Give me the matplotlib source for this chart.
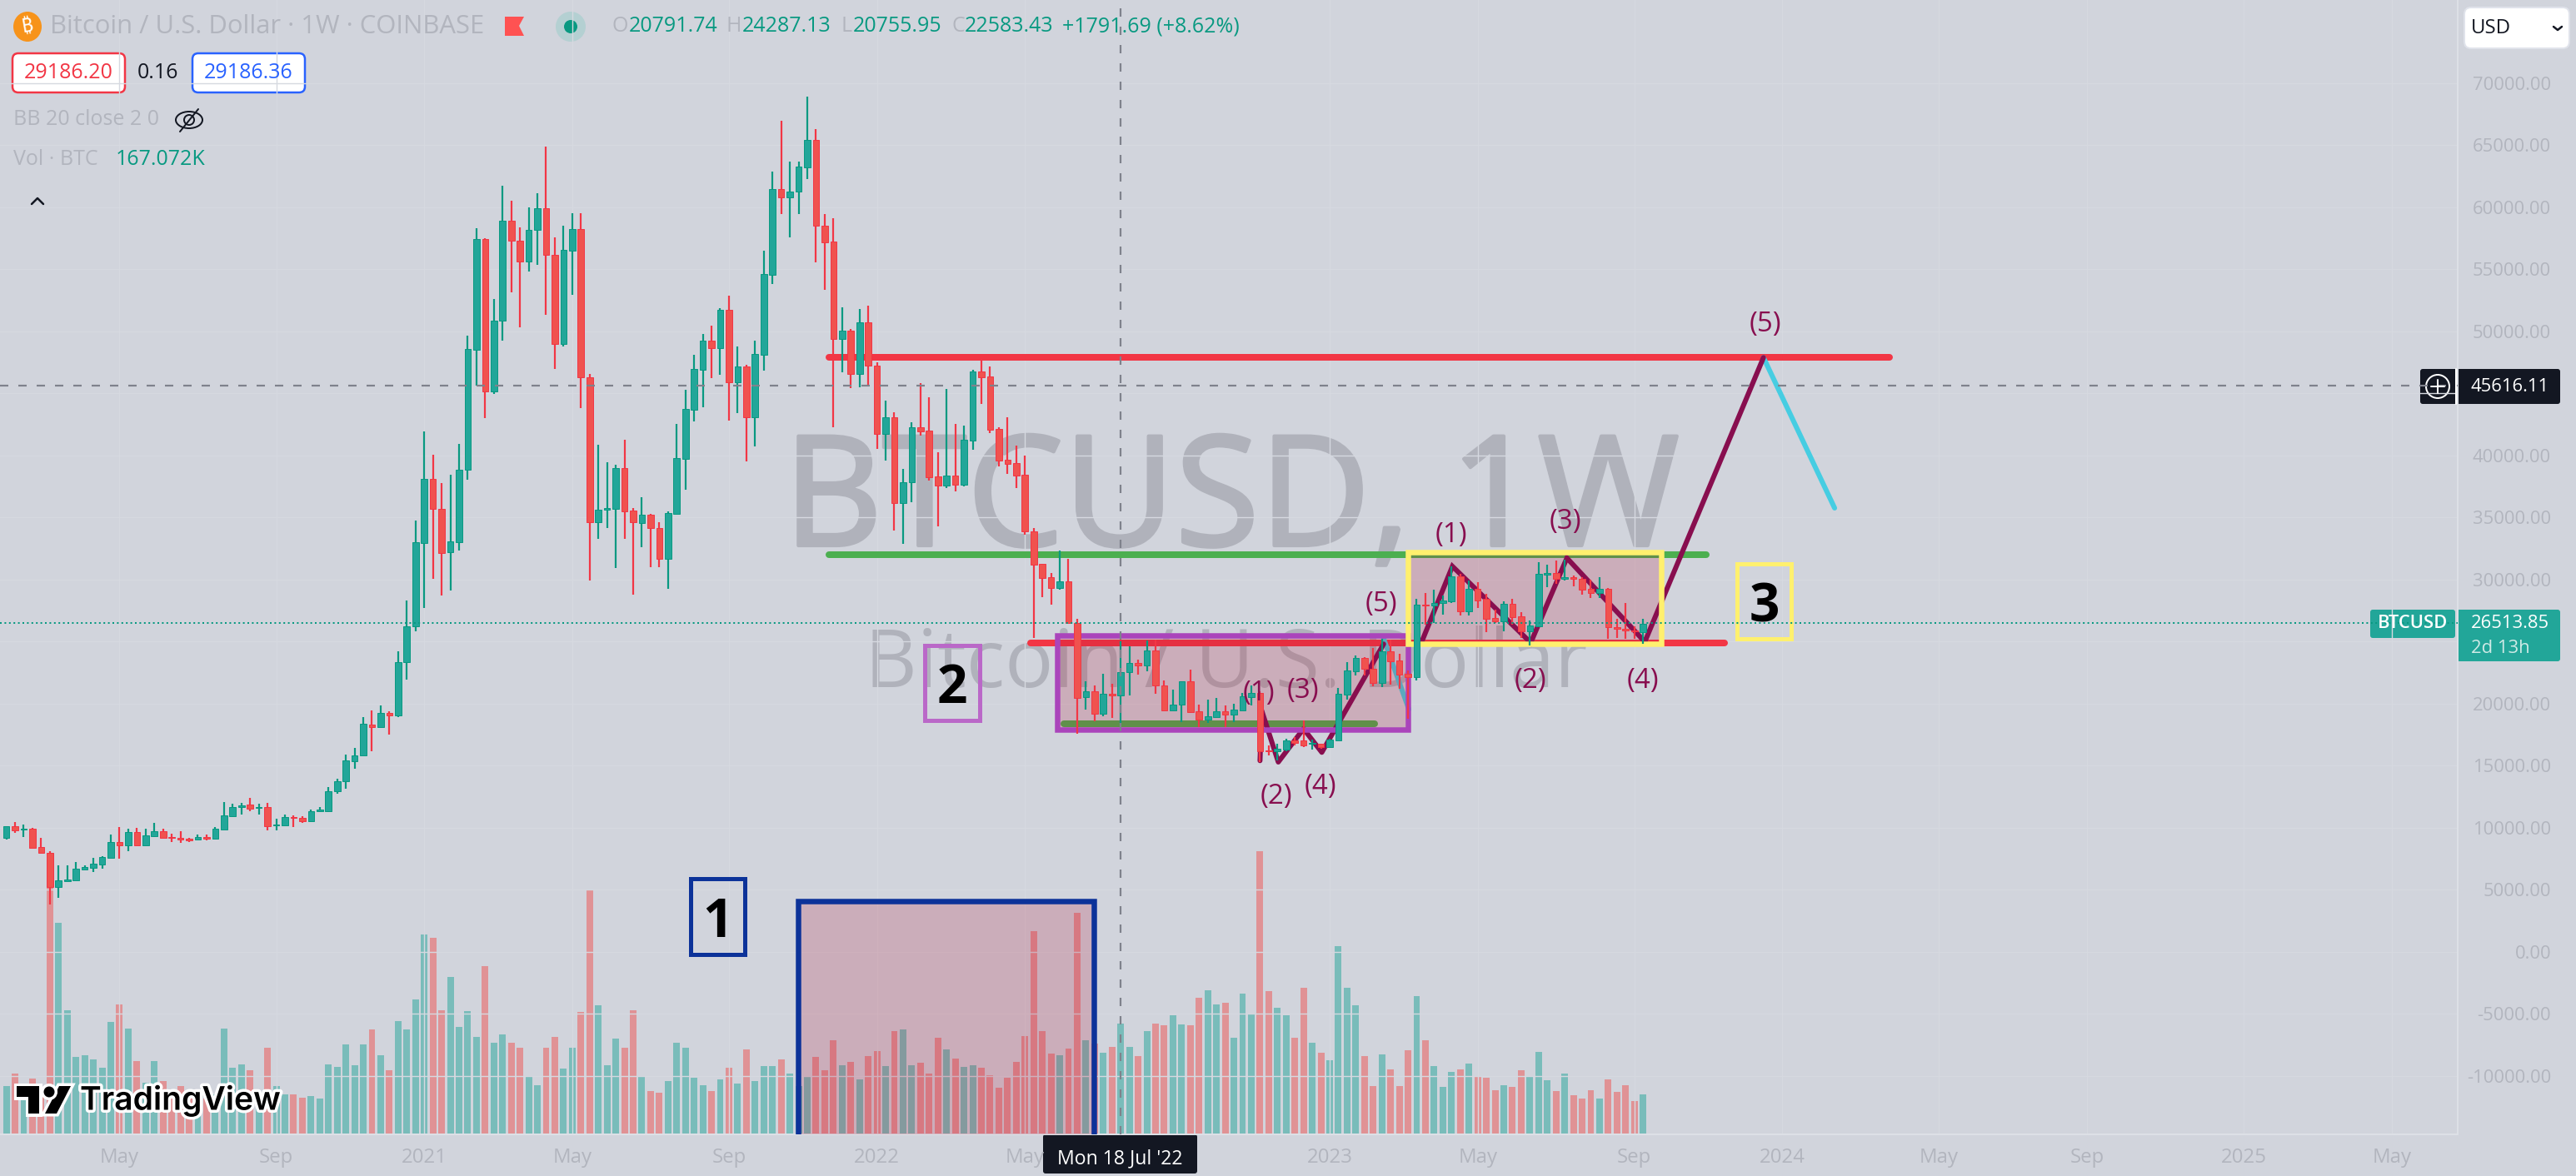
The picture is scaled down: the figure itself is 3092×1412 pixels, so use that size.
import matplotlib
matplotlib.use("Agg")
import matplotlib.pyplot as plt
import matplotlib.patheffects as pe
from matplotlib.colors import to_rgba
from matplotlib.lines import Line2D
from matplotlib.patches import Circle, Ellipse, FancyBboxPatch, Polygon, Rectangle
from matplotlib.transforms import Affine2D

# weekly candles, 3 Feb 2020 to 11 Sep 2023
opens = [9217,10134,9866,9933,8457,7987,5235,5727,5795,6667,6779,7070,7584,8859,8613,9642,8613,9329,9732,9284,
         9195,9105,9038,9262,9150,9888,10940,11656,11902,11611,11678,10179,10224,10873,10783,10537,11320,11320,12976,13746,
         15364,15865,18331,18138,19295,19064,23379,26230,32934,38097,35708,32241,33011,38868,48539,57439,45148,50889,58903,57285,
         55667,58171,59905,56206,48999,56514,58248,46342,34629,35631,35708,38983,35593,34552,35246,34167,31663,35290,39726,43681,
         46917,49266,48667,51735,45910,47180,43106,48144,54565,61454,60783,61276,63244,65414,58546,57249,49386,50057,46581,50728,
         47229,41763,43082,36202,37832,42315,42003,38311,37592,38360,37640,41236,46797,46365,42147,39654,39390,38456,33925,31264,
         30210,29299,29874,26494,20515,20998,19218,20784,20672,22529,23289,23110,24274,21455,19487,19934,21791,19375,18726,18949,
         19397,19151,19487,20560,20873,16265,16198,16309,17026,17026,16800,16757,16533,17071,20739,22641,23692,22842,21679,24229,
         23468,22417,22126,27987,27898,28121,28278,30291,27450,29240,28435,26891,26645,28054,27048,25840,26242,30403,30537,30067,
         30179,30067,29262,28949,29262,26197,26040,25929,25750]
closes = [10134,9821,9933,8412,7965,5235,5772,5839,6712,6824,7137,7674,8859,8613,9642,8613,9374,9732,9195,9195,
          9061,9016,9239,9150,9933,11007,11678,11790,11566,11678,10157,10269,10873,10783,10559,11365,11477,12976,13746,15441,
          15865,18370,18138,19295,19064,23379,26230,33011,38097,35708,32163,33088,38868,48616,57439,45148,50889,58903,57285,55667,
          58171,59905,56206,48999,56591,58248,46342,34629,35631,35747,38983,35516,34629,35246,34167,31663,35400,39798,43753,46989,
          49266,48667,51735,45934,47180,43106,48187,54609,61454,60783,61276,63289,65414,58546,57204,49386,50057,46581,50728,47229,
          41763,43082,36202,37832,42315,41955,38264,37592,38360,37640,41284,46797,46317,42075,39606,39318,38408,33925,31240,30162,
          29347,29874,26494,20502,20998,19218,20784,20672,22529,23289,23110,24274,21455,19487,19934,21791,19330,18726,18994,19397,
          19107,19531,20605,20873,16198,16198,16354,17026,16870,16645,16870,16533,17093,20784,22686,23692,22842,21679,24251,23424,
          22350,22126,27987,27898,28121,28345,30291,27450,29240,28345,26824,26645,28054,27003,25840,26287,30448,30537,30067,30179,
          30067,29217,28949,29262,26152,26018,25884,25817,26443]
highs = [10157,10448,10269,9978,9195,8121,6980,6958,7249,6958,7584,7718,9486,10090,9933,9978,9933,10425,9933,9553,
         9709,9195,9463,9486,10090,12058,11946,12013,12416,11969,11991,10716,11052,10984,10940,11499,11655,13282,13977,15904,
         16443,18908,19449,19834,19372,24226,28310,34745,41950,40062,37789,38482,40910,49656,58325,57516,52623,61755,60522,58364,
         59982,61138,64875,57593,58518,59520,59520,46574,40872,39446,39292,41295,35785,36633,35323,34629,35515,42554,45311,48115,
         49793,50465,51879,52885,48787,47324,49266,56511,62886,66980,63669,63700,68926,66309,59486,59150,51950,50177,51831,52070,
         47516,44424,43490,38935,42674,45838,44688,40277,45359,42554,42410,46941,48187,47180,42315,43082,40805,39989,34140,31264,
         30570,32367,31648,26854,21791,21500,22394,21612,25034,24654,23580,25079,25146,21858,21120,21791,22752,19934,20336,20448,
         19890,20000,20895,21455,21000,16645,16757,17205,17317,18659,17093,16800,17160,21276,23356,23916,23737,24475,25258,25146,
         24028,22700,28457,28949,29173,28725,31074,30448,29956,29777,28837,27607,28278,28435,27383,26712,31410,31186,31521,31634,
         30358,30179,30000,30179,29330,26824,28121,26264,26824]
lows = [9083,9597,9262,8412,7920,3848,4385,5683,5750,6622,6466,6734,7584,7539,8143,8591,8591,9262,9195,8882,
        8815,8882,8993,9016,9083,9888,10873,11052,11342,11052,9821,9821,10179,10090,10380,10492,11275,11250,12784,13168,
        14786,15827,16174,18062,17522,18949,21915,25806,27694,30083,28696,29158,32318,38020,45649,42990,44955,49271,53162,50311,
        54858,55358,51313,46997,48808,52931,43800,29929,33320,34167,30969,33320,28773,32626,31008,31008,29235,35242,37281,42746,
        43921,46270,46509,42842,43441,39558,40757,46847,53849,59486,57585,59486,62282,55594,53333,42315,46701,45430,45503,45551,
        40517,39606,33973,32894,36250,41643,38000,34285,37400,37113,37520,40493,44160,41835,39151,38551,37401,33637,25295,28580,
        28005,29203,26422,17553,19554,18614,18994,18882,18435,20672,22350,22618,20784,19487,19487,18547,19285,18100,18435,18882,
        18100,18547,19442,19890,15303,15818,15415,16198,16645,16533,16309,16354,16533,17071,20337,22305,22305,21410,21343,21567,
        21231,18800,21857,26376,26488,27159,28121,27092,27092,27719,25795,26488,25817,26376,25325,24699,26197,29397,29687,29911,
        29464,28792,28502,28502,25213,25325,25258,25258,24855]
# volume in thousands of BTC
volumes = [204,254,156,233,186,1057,897,527,325,332,315,280,474,550,446,310,218,308,222,168,
           201,180,133,150,168,449,280,296,269,168,364,204,168,166,152,159,148,293,283,379,
           290,379,443,333,269,479,443,571,847,834,527,666,453,521,411,713,386,421,386,364,
           243,207,364,411,276,364,520,1037,545,290,403,367,527,243,180,175,225,386,364,239,
           207,182,229,280,212,358,222,287,287,315,257,201,246,326,269,397,290,305,232,329,
           351,287,435,443,290,301,254,408,358,318,283,290,280,248,194,239,305,415,863,435,
           340,333,361,941,397,382,346,369,468,369,329,435,467,461,504,465,461,577,610,550,
           559,408,595,507,1204,607,536,504,408,621,386,344,312,799,621,546,329,204,337,273,
           204,354,585,397,287,198,262,273,297,244,237,184,205,198,269,244,347,226,180,255,
           162,148,184,148,230,177,205,137,167]

price_ticks = [70000,65000,60000,55000,50000,45000,40000,35000,30000,25000,20000,15000,10000,5000,0,-5000,-10000]
hidden_price_ticks = [45000, 25000]
time_ticks = [13,31,48,65,83,100,117,152,169,187,204,222,239,257,274]
time_labels = ["May","Sep","2021","May","Sep","2022","May","2023","May","Sep","2024","May","Sep","2025","May"]

last_price = 26513.85
cross_price = 45616.11
cross_bar = 128

# horizontal levels: bar from, bar to, price
level_red_top = [94.5, 216.3, 47946]
level_green_top = [94.5, 195.3, 31987]
level_red_low = [117.6, 197.4, 24913]
level_green_low = [121.5, 157.2, 18389]
# boxes: bar from, bar to, price low, price high
box_purple = [120.7, 161.0, 17919, 25503]
box_yellow = [161.0, 190.1, 24832, 32215]
box_blue = [90.9, 124.9, -16000, 4094]
tag_1 = [78.6, 84.8, -201, 5906]
tag_2 = [105.5, 111.8, 18658, 24698]
tag_3 = [198.8, 205.0, 25235, 31275]
# wave paths
wave_a_bar = [144.0, 144.2, 146.1, 149.0, 151.1, 158.2]
wave_a_price = [15415, 19442, 15303, 17988, 16086, 24811]
wave_b_bar = [162.6, 166.1, 175.1, 179.25, 188.2, 201.83]
wave_b_price = [25035, 31074, 24922, 31745, 24990, 47900]
drop_a_bar = [158.2, 161.1]
drop_a_price = [25258, 19553]
drop_b_bar = [201.83, 210.0]
drop_b_price = [47900, 35772]
wave_label_text = ["(1)","(3)","(2)","(4)","(5)","(1)","(3)","(2)","(4)","(5)"]
wave_label_bar = [143.9,148.9,145.9,150.9,157.9,166.0,179.1,175.1,188.0,202.0]
wave_label_price = [20872,21007,12550,13289,27987,33557,34631,21812,21879,50537]

BG = "#d1d4dc"
GRID = "#d6d9e0"
FADED = "#b2b5be"
UP = "#22a699"
UP_WICK = "#089981"
DOWN = "#f0524f"
DOWN_WICK = "#f23645"
INK = "#131722"
WAVE = "#880e4f"
TEAL = "#46cde2"
FILL = to_rgba("#b41432", 0.2)
UI_FONT = "Open Sans"

W, H = 3092, 1412
PX = 0.72  # one pixel in points at dpi 100

fig = plt.figure(figsize=(W / 100, H / 100), dpi=100, facecolor=BG)
top_px = Affine2D().scale(1, -1).translate(0, H)  # pixels from the top left corner
rect = [0, (H - 1362) / H, 2950 / W, 1362 / H]

x_limits = (-0.727, 281.57)
bars = range(len(closes))
rising = [c >= o for o, c in zip(opens, closes)]

# volume pane goes behind everything, watermark with it
ax_vol = fig.add_axes(rect, facecolor=BG, zorder=0)
ax_vol.set_xlim(*x_limits)
ax_vol.set_ylim(-3.55, 4832)
ax_vol.bar(bars, volumes, width=0.76, color=[UP if r else DOWN for r in rising], alpha=0.5,
           edgecolor="none", zorder=2)
ax_vol.set_xticks([])
ax_vol.set_yticks([])
for s in ax_vol.spines.values():
    s.set_visible(False)
ax_vol.text(1478, 655, "BTCUSD, 1W", transform=top_px, fontsize=184 * PX, color="#b0b2bb", family=UI_FONT,
            ha="center", va="baseline", zorder=1,
            path_effects=[pe.withStroke(linewidth=3, foreground="#b0b2bb")])
ax_vol.text(1472, 825, "Bitcoin / U.S. Dollar", transform=top_px, fontsize=97 * PX, color="#b0b2bb", family=UI_FONT,
            ha="center", va="baseline", zorder=1)

ax = fig.add_axes(rect, zorder=1)
ax.patch.set_visible(False)
ax.set_xlim(*x_limits)
ax.set_ylim(-14698, 76711)
ax.yaxis.tick_right()
ax.set_yticks(price_ticks)
ax.set_yticklabels(["" if p in hidden_price_ticks else f"{p:.2f}" for p in price_ticks],
                   fontsize=22 * PX, color=FADED, family=UI_FONT, ha="right")
ax.set_xticks(time_ticks)
ax.set_xticklabels(time_labels, fontsize=24 * PX, color=FADED, family=UI_FONT)
ax.tick_params(axis="y", length=0, pad=112 * PX)
ax.tick_params(axis="x", length=0, pad=16 * PX)
ax.grid(True, color=GRID, lw=1.4 * PX, zorder=0)
ax.set_axisbelow(True)
for side in ("left", "top"):
    ax.spines[side].set_visible(False)
for side in ("right", "bottom"):
    ax.spines[side].set_color("#dde0e6")
    ax.spines[side].set_linewidth(2 * PX)

# crosshair and last price line
ax.axhline(cross_price, color="#7f828c", lw=2.2 * PX, dashes=(10 / 2.2, 12 / 2.2), zorder=6)
ax.axvline(cross_bar, color="#7f828c", lw=2.2 * PX, dashes=(10 / 2.2, 12 / 2.2), zorder=6)
ax.axhline(last_price, color=UP_WICK, lw=2 * PX, dashes=(1, 1.7), zorder=6)

# drawn levels
for level, col in ((level_red_top, "#f23645"), (level_green_top, "#4caf50"),
                   (level_red_low, "#f23645"), (level_green_low, "#4caf50")):
    ax.plot(level[:2], [level[2], level[2]], color=col, lw=8 * PX, solid_capstyle="round", zorder=2)
for bx, by in ((drop_a_bar, drop_a_price), (drop_b_bar, drop_b_price)):
    ax.plot(bx, by, color=TEAL, lw=6 * PX, solid_capstyle="round", zorder=2.2)

# shaded boxes
for box, col in ((box_purple, "#aa44bb"), (box_yellow, "#fff06e"), (box_blue, "#0c3299")):
    ax.add_patch(Rectangle((box[0], box[2]), box[1] - box[0], box[3] - box[2], facecolor=FILL, edgecolor="none", zorder=3))
    ax.add_patch(Rectangle((box[0], box[2]), box[1] - box[0], box[3] - box[2], facecolor="none", edgecolor=col,
                           lw=6.5 * PX, joinstyle="miter", zorder=3.7))

ax.plot(wave_a_bar, wave_a_price, color=WAVE, lw=6 * PX, solid_capstyle="round", solid_joinstyle="round", zorder=3.5)
ax.plot(wave_b_bar, wave_b_price, color=WAVE, lw=6 * PX, solid_capstyle="round", solid_joinstyle="miter", zorder=3.5)

# numbered tags
for tag, col, digit in ((tag_1, "#0c3299", "1"), (tag_2, "#ba68c8", "2"), (tag_3, "#fff06e", "3")):
    ax.add_patch(Rectangle((tag[0], tag[2]), tag[1] - tag[0], tag[3] - tag[2], facecolor="none", edgecolor=col,
                           lw=5 * PX, zorder=3.7))
    ax.text((tag[0] + tag[1]) / 2, (tag[2] + tag[3]) / 2, digit, ha="center", va="center_baseline", color="black",
            fontsize=64 * PX, family=UI_FONT, fontweight="bold", zorder=5)

# candles
wick_colors = [UP_WICK if r else DOWN_WICK for r in rising]
ax.vlines(bars, lows, highs, colors=wick_colors, lw=2.2 * PX, zorder=4)
ax.bar(bars, [abs(c - o) for o, c in zip(opens, closes)], bottom=[min(o, c) for o, c in zip(opens, closes)],
       width=0.73, color=[UP if r else DOWN for r in rising], edgecolor=wick_colors, linewidth=0.7, zorder=4.2)

for txt, bx, by in zip(wave_label_text, wave_label_bar, wave_label_price):
    ax.text(bx, by, txt, color=WAVE, fontsize=33 * PX, family=UI_FONT, ha="center", va="center", zorder=5)


def label(x, y, s, size=25, color=FADED, ha="left", **kw):
    fig.add_artist(plt.Text(x, y, s, transform=top_px, fontsize=size * PX, color=color, ha=ha, va="center",
                            family=kw.pop("family", UI_FONT), **kw))


def rbox(x0, y0, x1, y1, face, edge="none", lw=0, r=5):
    fig.add_artist(FancyBboxPatch((x0, y0), x1 - x0, y1 - y0, boxstyle=f"round,pad=0,rounding_size={r}",
                                  transform=top_px, facecolor=face, edgecolor=edge, lw=lw * PX))


def stroke(xs, ys, color, lw=2.5):
    fig.add_artist(Line2D(xs, ys, transform=top_px, color=color, lw=lw * PX, solid_capstyle="round"))


# header row
fig.add_artist(Ellipse((33, 32), 34, 36, transform=top_px, facecolor="#f7931a", edgecolor="none"))
label(33, 32, "₿", size=24, color="white", ha="center", family=["Noto Sans", "Open Sans", "DejaVu Sans"], fontweight="bold", rotation=10)
label(60, 32, "Bitcoin / U.S. Dollar · 1W · COINBASE", size=31)
fig.add_artist(Polygon([(606, 20), (629, 20), (623, 31), (629, 43), (606, 43)], transform=top_px, facecolor="#ff5252"))
fig.add_artist(Circle((685, 32), 18, transform=top_px, facecolor="#b4d0d2", edgecolor="none"))
fig.add_artist(Circle((685, 32), 8, transform=top_px, facecolor=UP_WICK, edgecolor="none"))
for lx, letter, vx, value in ((735, "O", 755, "20791.74"), (872, "H", 891, "24287.13"),
                              (1009, "L", 1024, "20755.95"), (1142, "C", 1158, "22583.43")):
    label(lx, 32, letter)
    label(vx, 32, value, color=UP_WICK)
label(1275, 32, "+1791.69 (+8.62%)", color=UP_WICK)

rbox(15, 64, 150, 111, "white", "#f23645", 2.5, 7)
label(82, 88, "29186.20", color="#f23645", ha="center")
label(190, 88, "0.16", color=INK, ha="center")
rbox(231, 64, 366, 111, "white", "#2962ff", 2.5, 7)
label(298, 88, "29186.36", color="#2962ff", ha="center")

label(16, 144, "BB 20 close 2 0")
fig.add_artist(Ellipse((227, 144), 32, 20, transform=top_px, facecolor="none", edgecolor=INK, lw=2 * PX))
fig.add_artist(Circle((227, 144), 6, transform=top_px, facecolor="none", edgecolor=INK, lw=2 * PX))
stroke([216, 238], [158, 131], INK, 2)
label(16, 192, "Vol · BTC")
label(139, 192, "167.072K", color=UP_WICK)
stroke([38, 45, 52], [245, 238, 245], INK, 2.5)

# currency button
rbox(2958, 9, 3084, 58, "white", "#e0e3eb", 2, 8)
label(2966, 34, "USD", size=24, color=INK)
stroke([3065, 3070, 3075], [32, 36, 32], INK, 2.5)

# crosshair price tag
rbox(2905, 443, 3073, 485, INK, r=3)
stroke([2948, 2948], [443, 485], "white", 2)
fig.add_artist(Circle((2926, 464), 14, transform=top_px, facecolor="none", edgecolor="white", lw=2 * PX))
stroke([2918, 2934], [464, 464], "white", 2)
stroke([2926, 2926], [456, 472], "white", 2)
label(2966, 465, "45616.11", size=22, color="white")

# last price tag
rbox(2845, 732, 2947, 766, UP, r=3)
label(2896, 749, "BTCUSD", size=22, color="white", ha="center", fontweight="semibold")
rbox(2949, 732, 3073, 794, UP, r=3)
label(2966, 749, "26513.85", size=22, color="white")
label(2966, 778, "2d 13h", size=22, color="#cfeae6")

# crosshair date tag
rbox(1252, 1362, 1437, 1409, INK, r=3)
label(1344, 1391, "Mon 18 Jul '22", size=23, color="white", ha="center")

# TradingView logo
halo = [pe.withStroke(linewidth=7 * PX, foreground="white")]
for pts in ([(20, 1304), (47, 1304), (47, 1337), (34, 1337), (34, 1317), (20, 1317)],
            [(71, 1304), (85, 1304), (68, 1337), (54, 1337)]):
    p = Polygon(pts, transform=top_px, facecolor="black", edgecolor="none")
    p.set_path_effects([pe.withStroke(linewidth=7 * PX, foreground="white")])
    fig.add_artist(p)
dot = Circle((59, 1311), 6.5, transform=top_px, facecolor="black", edgecolor="none")
dot.set_path_effects(halo)
fig.add_artist(dot)
fig.add_artist(plt.Text(96, 1321, "TradingView", transform=top_px, fontsize=39 * PX, color="black", ha="left", va="center",
                        family="Inter", fontweight="semibold", path_effects=halo))

fig.savefig("out.png", dpi=100, facecolor=BG)
